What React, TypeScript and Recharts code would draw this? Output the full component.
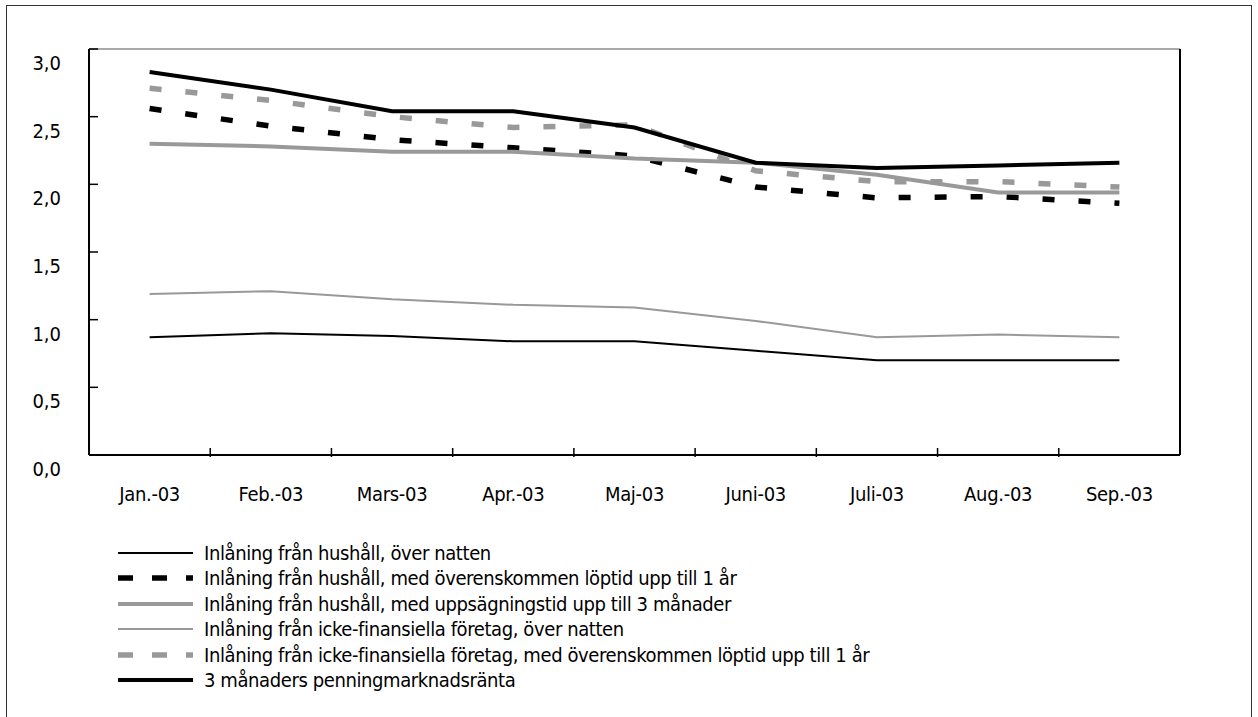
import React from "react";
import { LineChart, Line, XAxis, YAxis, Legend, ReferenceLine } from "recharts";

const months = ["Jan.-03", "Feb.-03", "Mars-03", "Apr.-03", "Maj-03", "Juni-03", "Juli-03", "Aug.-03", "Sep.-03"];

const hushallNatten = [0.87, 0.9, 0.88, 0.84, 0.84, 0.77, 0.7, 0.7, 0.7];
const hushallLoptid = [2.56, 2.43, 2.33, 2.27, 2.21, 1.98, 1.9, 1.91, 1.86];
const hushallUppsagning = [2.3, 2.28, 2.24, 2.24, 2.19, 2.16, 2.07, 1.94, 1.94];
const foretagNatten = [1.19, 1.21, 1.15, 1.11, 1.09, 0.99, 0.87, 0.89, 0.87];
const foretagLoptid = [2.71, 2.62, 2.5, 2.42, 2.44, 2.1, 2.02, 2.02, 1.98];
const penningmarknad = [2.83, 2.7, 2.54, 2.54, 2.42, 2.16, 2.12, 2.14, 2.16];

const yTicks = [0, 0.5, 1, 1.5, 2, 2.5, 3];

const FONT = "'Liberation Sans Narrow', 'DejaVu Sans Condensed', 'Liberation Sans', sans-serif";
const GRAY = "#999999";

const series = [
  { key: "hushallNatten", name: "Inlåning från hushåll, över natten", color: "#000", width: 2, dash: undefined },
  { key: "hushallLoptid", name: "Inlåning från hushåll, med överenskommen löptid upp till 1 år", color: "#000", width: 5.5, dash: "12 24" },
  { key: "hushallUppsagning", name: "Inlåning från hushåll, med uppsägningstid upp till 3 månader", color: GRAY, width: 4, dash: undefined },
  { key: "foretagNatten", name: "Inlåning från icke-finansiella företag, över natten", color: GRAY, width: 2, dash: undefined },
  { key: "foretagLoptid", name: "Inlåning från icke-finansiella företag, med överenskommen löptid upp till 1 år", color: GRAY, width: 5.5, dash: "12 24" },
  { key: "penningmarknad", name: "3 månaders penningmarknadsränta", color: "#000", width: 4, dash: undefined },
];

const data = months.map((m, i) => ({
  month: m,
  hushallNatten: hushallNatten[i],
  hushallLoptid: hushallLoptid[i],
  hushallUppsagning: hushallUppsagning[i],
  foretagNatten: foretagNatten[i],
  foretagLoptid: foretagLoptid[i],
  penningmarknad: penningmarknad[i],
}));

const W = 1258;
const H = 717;
const LEFT_AXIS_W = 89;
const RIGHT_AXIS_W = 78;
const BAND = (W - LEFT_AXIS_W - RIGHT_AXIS_W) / months.length;

const fmt = (v: number) => v.toFixed(1).replace(".", ",");

function LeftTick(props: any) {
  const { x, y, payload } = props;
  return (
    <g>
      <line x1={x} x2={x + 9} y1={y} y2={y} stroke="#000" strokeWidth={1.5} />
      <text x={x - 28} y={y + 14} textAnchor="end" dominantBaseline="central" fontFamily={FONT} fontSize={20} fill="#000">
        {fmt(payload.value)}
      </text>
    </g>
  );
}

function RightTick(props: any) {
  const { x, y, payload } = props;
  return (
    <g>
      <line x1={x - 9} x2={x} y1={y} y2={y} stroke="#000" strokeWidth={1.5} />
      <text x={x + 20} y={y + 14} textAnchor="start" dominantBaseline="central" fontFamily={FONT} fontSize={20} fill="#000">
        {fmt(payload.value)}
      </text>
    </g>
  );
}

function MonthTick(props: any) {
  const { x, y, payload, index } = props;
  const half = BAND / 2;
  return (
    <g>
      {index < months.length - 1 && (
        <line x1={x + half} x2={x + half} y1={y} y2={y - 9} stroke="#000" strokeWidth={1.5} />
      )}
      <text x={x} y={y + 37} textAnchor="middle" dominantBaseline="central" fontFamily={FONT} fontSize={20} letterSpacing={-0.3} fill="#000">
        {payload.value}
      </text>
    </g>
  );
}

function LegendContent() {
  return (
    <div style={{ fontFamily: FONT, fontSize: 20, letterSpacing: -0.4, color: "#000" }}>
      {series.map((s) => (
        <div key={s.key} style={{ display: "flex", alignItems: "center", height: 25.5, whiteSpace: "nowrap" }}>
          <svg width={79} height={14} style={{ flex: "none" }}>
            <line
              x1={1}
              x2={76}
              y1={7}
              y2={7}
              stroke={s.color}
              strokeWidth={s.width}
              strokeDasharray={s.dash ? "15 19" : undefined}
            />
          </svg>
          <span style={{ marginLeft: 8 }}>{s.name}</span>
        </div>
      ))}
    </div>
  );
}

export default function App() {
  return (
    <div style={{ position: "fixed", left: 0, top: 0, width: W, height: H, background: "#fff", overflow: "hidden" }}>
      <div
        style={{
          position: "absolute",
          left: 6,
          top: 5,
          width: 1246,
          height: 740,
          border: "1.5px solid #333",
          boxSizing: "border-box",
        }}
      />
      <div style={{ position: "absolute", left: 0, top: 0 }}>
        <LineChart width={W} height={H} data={data} margin={{ top: 49, right: 0, bottom: 222, left: 0 }}>
          <XAxis
            dataKey="month"
            height={40}
            padding={{ left: BAND / 2, right: BAND / 2 }}
            axisLine={{ stroke: "#000", strokeWidth: 2 }}
            tickLine={false}
            tickSize={0}
            tick={<MonthTick />}
            interval={0}
          />
          <YAxis
            yAxisId="left"
            width={LEFT_AXIS_W}
            domain={[0, 3]}
            ticks={yTicks}
            axisLine={{ stroke: "#000", strokeWidth: 2 }}
            tickLine={false}
            tickSize={0}
            tickMargin={0}
            tick={<LeftTick />}
          />
          <YAxis
            yAxisId="right"
            orientation="right"
            width={RIGHT_AXIS_W}
            domain={[0, 3]}
            ticks={yTicks}
            axisLine={{ stroke: "#000", strokeWidth: 2 }}
            tickLine={false}
            tickSize={0}
            tickMargin={0}
            tick={<RightTick />}
          />
          <ReferenceLine yAxisId="left" y={3} stroke="#8c8c8c" strokeWidth={1.5} />
          {series.map((s) => (
            <Line
              key={s.key}
              yAxisId="left"
              type="linear"
              dataKey={s.key}
              name={s.name}
              stroke={s.color}
              strokeWidth={s.width}
              strokeDasharray={s.dash}
              dot={false}
              activeDot={false}
              isAnimationActive={false}
            />
          ))}
          <Legend
            verticalAlign="middle"
            align="center"
            layout="horizontal"
            content={<LegendContent />}
            wrapperStyle={{ left: 117, top: 540, width: 900 }}
          />
        </LineChart>
      </div>
    </div>
  );
}
